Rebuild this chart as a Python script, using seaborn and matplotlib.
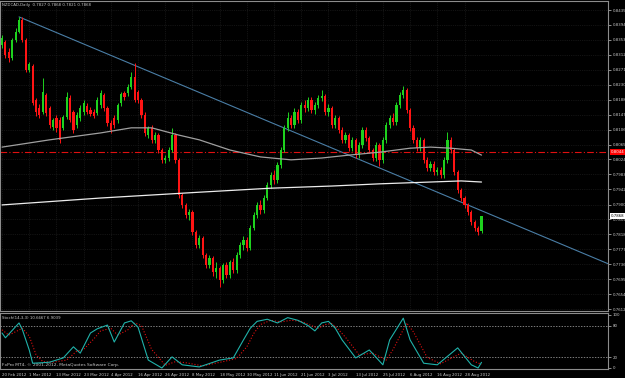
import numpy as np
import pandas as pd
import seaborn as sns
import matplotlib.pyplot as plt

sns.set_style("dark")
plt.rcParams["font.family"] = ["DejaVu Sans"]

BG = "#000000"
FG = "#c8c8c8"
FRAME = "#8c8c8c"
BULL = "#1ed21e"
BEAR = "#ff1414"
FS = 2.8

# ---- daily NZDCAD candles, 20 Feb 2012 .. 4 Sep 2012 ----
opens = [0.8339, 0.8347, 0.8319, 0.8303, 0.8353, 0.8375, 0.8408, 0.8353, 0.8270, 0.8281,
         0.8188, 0.8166, 0.8155, 0.8201, 0.8166, 0.8113, 0.8138, 0.8133, 0.8111, 0.8141,
         0.8193, 0.8155, 0.8119, 0.8138, 0.8155, 0.8171, 0.8160, 0.8155, 0.8152, 0.8174,
         0.8201, 0.8166, 0.8124, 0.8138, 0.8133, 0.8179, 0.8207, 0.8207, 0.8223, 0.8251,
         0.8210, 0.8188, 0.8146, 0.8091, 0.8111, 0.8078, 0.8091, 0.8050, 0.8023, 0.8028,
         0.8050, 0.8091, 0.8023, 0.7926, 0.7899, 0.7871, 0.7879, 0.7824, 0.7789, 0.7808,
         0.7761, 0.7734, 0.7753, 0.7715, 0.7726, 0.7693, 0.7734, 0.7706, 0.7742, 0.7720,
         0.7761, 0.7789, 0.7803, 0.7781, 0.7835, 0.7871, 0.7899, 0.7885, 0.7918, 0.7954,
         0.7981, 0.7968, 0.8009, 0.8050, 0.8111, 0.8138, 0.8119, 0.8155, 0.8133, 0.8174,
         0.8166, 0.8188, 0.8160, 0.8174, 0.8193, 0.8199, 0.8155, 0.8166, 0.8119, 0.8138,
         0.8105, 0.8078, 0.8091, 0.8055, 0.8078, 0.8036, 0.8064, 0.8105, 0.8083, 0.8050,
         0.8028, 0.8064, 0.8023, 0.8078, 0.8119, 0.8138, 0.8127, 0.8174, 0.8201, 0.8215,
         0.8160, 0.8111, 0.8078, 0.8055, 0.8078, 0.8023, 0.8001, 0.8012, 0.7990, 0.7995,
         0.7981, 0.8023, 0.8078, 0.8050, 0.7990, 0.7940, 0.7918, 0.7899, 0.7879, 0.7852,
         0.7835, 0.7827]
highs = [0.8366, 0.8353, 0.8331, 0.8358, 0.8386, 0.8416, 0.8416, 0.8358, 0.8292, 0.8287,
         0.8193, 0.8177, 0.8248, 0.8207, 0.8171, 0.8138, 0.8146, 0.8141, 0.8146, 0.8210,
         0.8201, 0.8160, 0.8155, 0.8174, 0.8188, 0.8179, 0.8168, 0.8163, 0.8196, 0.8215,
         0.8207, 0.8171, 0.8133, 0.8146, 0.8179, 0.8210, 0.8212, 0.8232, 0.8265, 0.8289,
         0.8215, 0.8193, 0.8155, 0.8116, 0.8119, 0.8100, 0.8097, 0.8055, 0.8036, 0.8058,
         0.8111, 0.8097, 0.8028, 0.7932, 0.7904, 0.7888, 0.7885, 0.7830, 0.7816, 0.7814,
         0.7767, 0.7761, 0.7758, 0.7742, 0.7731, 0.7739, 0.7742, 0.7748, 0.7753, 0.7770,
         0.7797, 0.7814, 0.7811, 0.7844, 0.7879, 0.7907, 0.7913, 0.7926, 0.7962, 0.7990,
         0.7995, 0.8017, 0.8058, 0.8119, 0.8155, 0.8146, 0.8166, 0.8163, 0.8182, 0.8188,
         0.8196, 0.8196, 0.8182, 0.8201, 0.8215, 0.8204, 0.8177, 0.8171, 0.8146, 0.8144,
         0.8113, 0.8100, 0.8097, 0.8086, 0.8083, 0.8072, 0.8113, 0.8113, 0.8089, 0.8055,
         0.8072, 0.8069, 0.8086, 0.8127, 0.8146, 0.8152, 0.8182, 0.8210, 0.8226, 0.8221,
         0.8166, 0.8119, 0.8086, 0.8086, 0.8083, 0.8031, 0.8020, 0.8020, 0.8003, 0.8003,
         0.8031, 0.8100, 0.8086, 0.8055, 0.7995, 0.7945, 0.7923, 0.7904, 0.7885, 0.7858,
         0.7841, 0.7868]
lows = [0.8331, 0.8303, 0.8292, 0.8298, 0.8347, 0.8372, 0.8347, 0.8265, 0.8265, 0.8174,
        0.8144, 0.8138, 0.8149, 0.8144, 0.8111, 0.8105, 0.8100, 0.8069, 0.8105, 0.8135,
        0.8127, 0.8097, 0.8111, 0.8130, 0.8146, 0.8149, 0.8144, 0.8138, 0.8146, 0.8166,
        0.8157, 0.8116, 0.8097, 0.8111, 0.8124, 0.8171, 0.8188, 0.8199, 0.8218, 0.8182,
        0.8179, 0.8138, 0.8089, 0.8083, 0.8069, 0.8069, 0.8042, 0.8014, 0.8014, 0.8020,
        0.8044, 0.8014, 0.7918, 0.7890, 0.7863, 0.7858, 0.7816, 0.7781, 0.7781, 0.7753,
        0.7726, 0.7726, 0.7703, 0.7698, 0.7673, 0.7684, 0.7698, 0.7698, 0.7712, 0.7712,
        0.7753, 0.7775, 0.7772, 0.7775, 0.7830, 0.7863, 0.7874, 0.7877, 0.7913, 0.7945,
        0.7957, 0.7959, 0.8001, 0.8044, 0.8102, 0.8111, 0.8111, 0.8124, 0.8124, 0.8155,
        0.8157, 0.8152, 0.8149, 0.8166, 0.8185, 0.8146, 0.8144, 0.8111, 0.8111, 0.8097,
        0.8069, 0.8069, 0.8047, 0.8047, 0.8028, 0.8028, 0.8055, 0.8075, 0.8042, 0.8020,
        0.8020, 0.8006, 0.8014, 0.8069, 0.8111, 0.8119, 0.8119, 0.8166, 0.8193, 0.8152,
        0.8102, 0.8069, 0.8047, 0.8047, 0.8014, 0.7992, 0.7992, 0.7981, 0.7981, 0.7973,
        0.7973, 0.8014, 0.8042, 0.7981, 0.7932, 0.7910, 0.7890, 0.7871, 0.7844, 0.7827,
        0.7816, 0.7821]
closes = [0.8358, 0.8311, 0.8303, 0.8353, 0.8375, 0.8408, 0.8353, 0.8270, 0.8287, 0.8179,
          0.8155, 0.8146, 0.8210, 0.8152, 0.8119, 0.8133, 0.8111, 0.8078, 0.8141, 0.8196,
          0.8133, 0.8105, 0.8146, 0.8166, 0.8179, 0.8155, 0.8149, 0.8144, 0.8188, 0.8207,
          0.8166, 0.8124, 0.8105, 0.8119, 0.8174, 0.8204, 0.8196, 0.8223, 0.8251, 0.8188,
          0.8188, 0.8146, 0.8097, 0.8111, 0.8078, 0.8091, 0.8050, 0.8023, 0.8028, 0.8050,
          0.8091, 0.8023, 0.7926, 0.7899, 0.7871, 0.7879, 0.7824, 0.7789, 0.7808, 0.7761,
          0.7734, 0.7753, 0.7715, 0.7726, 0.7693, 0.7734, 0.7706, 0.7742, 0.7720, 0.7761,
          0.7789, 0.7803, 0.7781, 0.7835, 0.7871, 0.7899, 0.7885, 0.7918, 0.7954, 0.7981,
          0.7968, 0.8009, 0.8050, 0.8111, 0.8138, 0.8119, 0.8155, 0.8133, 0.8174, 0.8166,
          0.8188, 0.8160, 0.8174, 0.8193, 0.8199, 0.8155, 0.8166, 0.8119, 0.8138, 0.8105,
          0.8078, 0.8091, 0.8055, 0.8078, 0.8036, 0.8064, 0.8105, 0.8083, 0.8050, 0.8028,
          0.8064, 0.8023, 0.8078, 0.8119, 0.8138, 0.8127, 0.8174, 0.8201, 0.8215, 0.8160,
          0.8111, 0.8078, 0.8055, 0.8078, 0.8023, 0.8001, 0.8012, 0.7990, 0.7995, 0.7981,
          0.8023, 0.8078, 0.8050, 0.7990, 0.7940, 0.7918, 0.7899, 0.7879, 0.7852, 0.7835,
          0.7824, 0.7868]

# moving averages (bar index, price)
ma_fast_bar = [0, 14, 29, 38, 44, 52, 58, 67, 76, 85, 94, 102, 111, 120, 126, 132, 138, 141]
ma_fast = [0.8058, 0.8078, 0.8097, 0.8111, 0.8111, 0.8091, 0.8078, 0.8050, 0.8031, 0.8023,
           0.8028, 0.8036, 0.8044, 0.8055, 0.8058, 0.8055, 0.8050, 0.8036]
ma_slow_bar = [0, 29, 58, 79, 97, 111, 126, 135, 141]
ma_slow = [0.7899, 0.7918, 0.7934, 0.7945, 0.7951, 0.7957, 0.7962, 0.7965, 0.7962]

# trend line (ray from the March high) and horizontal level
trend_bar = [5, 200]
trend_price = [0.8416, 0.7652]
level_price = 0.8044

# stochastic (14,3,3)
stoch_k_bar = [0, 1, 5, 6, 8, 9, 12, 14, 18, 21, 23, 26, 28, 31, 33, 36, 38, 40, 43, 47,
               50, 53, 58, 64, 68, 71, 73, 75, 78, 81, 84, 87, 90, 92, 94, 96, 98, 100, 104,
               108, 112, 114, 118, 120, 124, 128, 134, 138, 140, 141]
stoch_k = [66, 57, 85, 72, 34, 9, 10, 11, 19, 40, 28, 66, 74, 81, 49, 85, 89, 77, 15, 0,
           21, 6, 2, 15, 19, 53, 75, 88, 92, 85, 95, 90, 80, 70, 85, 88, 75, 53, 19,
           34, 6, 53, 94, 53, 9, 6, 38, 6, 0, 10.6667]
stoch_d_bar = [0, 2, 6, 8, 10, 12, 15, 19, 22, 24, 27, 29, 32, 34, 37, 39, 41, 44, 48, 51,
               54, 59, 65, 69, 72, 74, 76, 79, 82, 85, 88, 91, 93, 95, 97, 99, 101, 105, 109,
               113, 115, 119, 121, 125, 129, 135, 139, 141]
stoch_d = [72, 62, 75, 60, 25, 12, 11, 15, 32, 35, 55, 70, 75, 62, 72, 85, 80, 35, 5, 12,
           10, 4, 12, 18, 40, 65, 82, 90, 87, 90, 88, 80, 75, 82, 84, 72, 58, 25, 28,
           15, 35, 85, 68, 20, 8, 28, 12, 6.9039]

date_bar = [0, 8, 16, 24, 32, 40, 48, 56, 64, 72, 80, 88, 96, 104, 112, 120, 128, 136]
date_labels = ["20 Feb 2012", "1 Mar 2012", "13 Mar 2012", "23 Mar 2012", "4 Apr 2012",
               "16 Apr 2012", "26 Apr 2012", "8 May 2012", "18 May 2012", "30 May 2012",
               "11 Jun 2012", "21 Jun 2012", "3 Jul 2012", "13 Jul 2012", "25 Jul 2012",
               "6 Aug 2012", "16 Aug 2012", "28 Aug 2012"]
price_ticks = [0.8435, 0.8394, 0.8353, 0.8312, 0.8271, 0.8230, 0.8188, 0.8147, 0.8106,
               0.8065, 0.8024, 0.7983, 0.7942, 0.7900, 0.7859, 0.7818, 0.7777, 0.7736,
               0.7695, 0.7654, 0.7612]
stoch_ticks = [100, 80, 20, 0]

df = pd.DataFrame({"open": opens, "high": highs, "low": lows, "close": closes})
df["bar"] = np.arange(len(df))
df["up"] = df["close"] >= df["open"]
df["body_lo"] = df[["open", "close"]].min(axis=1)
df["body_h"] = (df["close"] - df["open"]).abs().clip(lower=0.00015)

fig = plt.figure(figsize=(6.25, 3.78), dpi=100, facecolor=BG)
ax = fig.add_axes([0.0, 0.1772, 0.9728, 0.8202])
axs = fig.add_axes([0.0, 0.0238, 0.9728, 0.1482], sharex=ax)

for a in (ax, axs):
    a.set_facecolor(BG)
    for s in a.spines.values():
        s.set_color(FRAME)
        s.set_linewidth(0.8)
    a.yaxis.tick_right()
    a.tick_params(colors=FG, labelsize=FS, length=2, width=0.5, pad=1.2)
    a.grid(True, color="#262626", linestyle=":", linewidth=0.5)

# candles
for is_up, col in ((True, BULL), (False, BEAR)):
    d = df[df["up"] == is_up]
    ax.vlines(d["bar"], d["low"], d["high"], colors=col, linewidth=0.7, zorder=3)
    ax.bar(d["bar"], d["body_h"], bottom=d["body_lo"], width=0.62, color=col,
           linewidth=0, zorder=4)

sns.lineplot(x=ma_fast_bar, y=ma_fast, ax=ax, color="#a0a0a0", linewidth=0.9, zorder=5)
sns.lineplot(x=ma_slow_bar, y=ma_slow, ax=ax, color="#ececec", linewidth=0.9, zorder=5)
ax.plot(trend_bar, trend_price, color="#4a7ea6", linewidth=0.8, zorder=2)
ax.axhline(level_price, color="#e01010", linestyle=(0, (6, 2, 1, 2)), linewidth=0.8, zorder=2)

ax.set_xlim(-0.6, 178.2)
ax.set_ylim(0.76073, 0.84598)
ax.set_yticks(price_ticks)
ax.set_yticklabels([f"{p:.4f}" for p in price_ticks])
ax.tick_params(axis="x", labelbottom=False, length=0)

# price markers on right scale
ax.text(1.004, level_price, f"{level_price:.4f}", transform=ax.get_yaxis_transform(),
        fontsize=FS, color="#ffffff", va="center", ha="left",
        bbox=dict(boxstyle="square,pad=0.2", fc="#ff0000", ec="none"))
ax.text(1.004, closes[-1], f"{closes[-1]:.4f}", transform=ax.get_yaxis_transform(),
        fontsize=FS, color="#000000", va="center", ha="left",
        bbox=dict(boxstyle="square,pad=0.2", fc="#ffffff", ec="none"))

ax.text(0.004, 0.993, f"NZDCAD,Daily  {opens[-1]:.4f} {highs[-1]:.4f} {lows[-1]:.4f} {closes[-1]:.4f}",
        transform=ax.transAxes, fontsize=FS, color=FG, va="top", ha="left")

# stochastic panel
sns.lineplot(x=stoch_k_bar, y=stoch_k, ax=axs, color="#20b2aa", linewidth=0.8, zorder=4)
sns.lineplot(x=stoch_d_bar, y=stoch_d, ax=axs, color="#e01010", linewidth=0.8,
             linestyle=":", zorder=3)
for lv in (80, 20):
    axs.axhline(lv, color="#b0b0b0", linestyle=(0, (2, 2)), linewidth=0.5)
axs.set_ylim(-1.9, 103.8)
axs.set_yticks(stoch_ticks)
axs.set_yticklabels([str(t) for t in stoch_ticks])
axs.set_xticks(date_bar)
axs.set_xticklabels(date_labels, ha="left")
axs.tick_params(axis="x", pad=0.8)
axs.grid(False)
axs.text(0.004, 0.95, f"Stoch(14,3,3) {stoch_k[-1]:.4f} {stoch_d[-1]:.4f}",
         transform=axs.transAxes, fontsize=FS, color=FG, va="top", ha="left")
axs.text(0.003, 0.04, "FxPro MT4, \u00a9 2001-2012, MetaQuotes Software Corp.",
         transform=axs.transAxes, fontsize=3.2, color=FG, va="bottom", ha="left")

fig.savefig("out.png", dpi=100, facecolor=BG)
